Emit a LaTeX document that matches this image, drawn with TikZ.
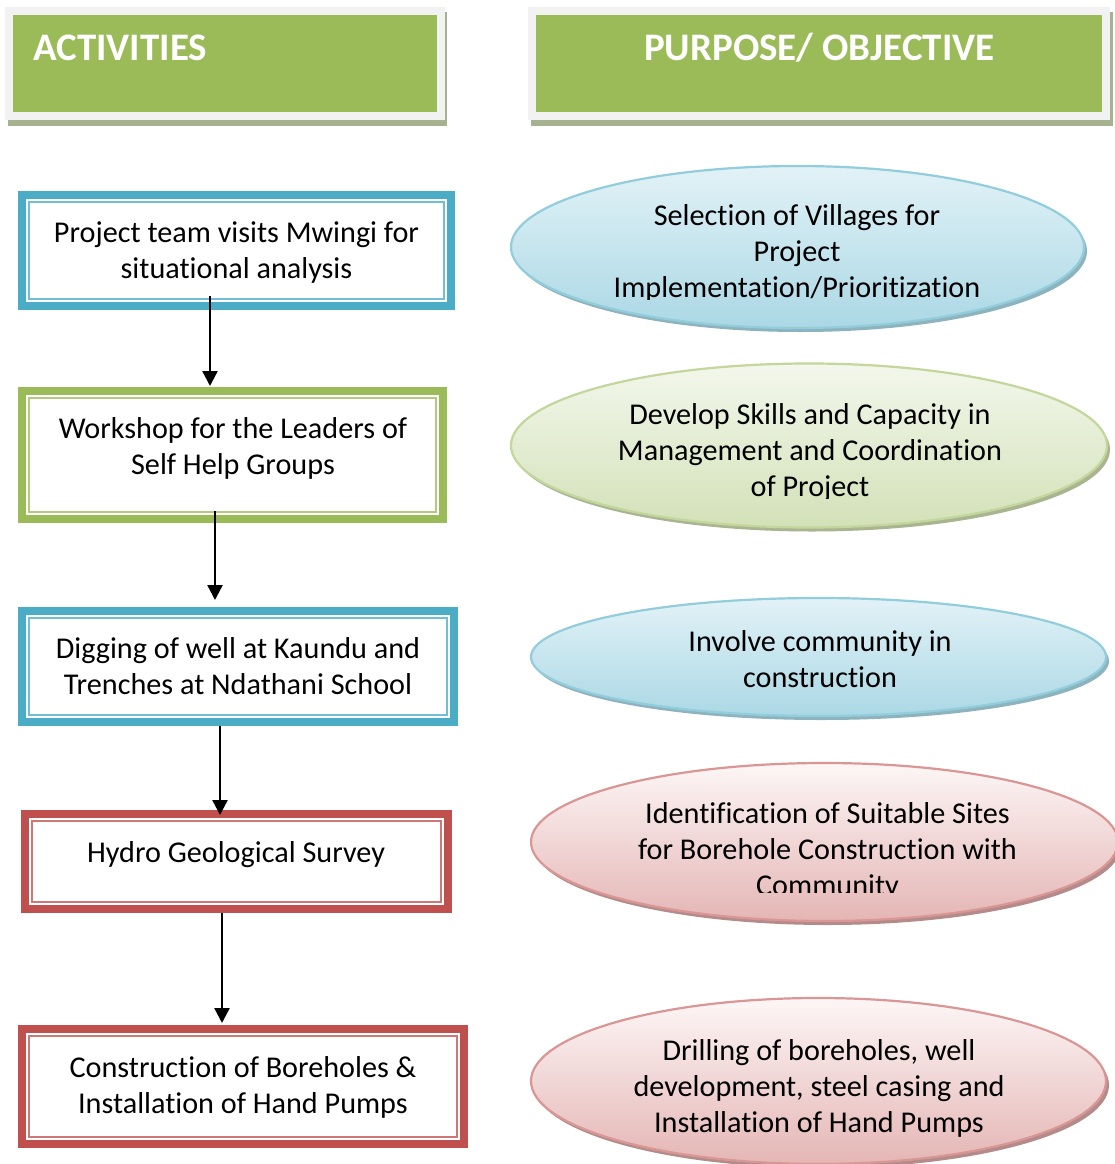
\documentclass[tikz,border=0pt]{standalone}
\usepackage{fontspec}
\setmainfont{Carlito}[Ligatures=NoCommon]
\usetikzlibrary{shapes.geometric,arrows.meta}
\definecolor{hgreen}{HTML}{9BBB59}
\definecolor{hframe}{HTML}{F2F2F2}
\definecolor{hshadow}{HTML}{A5B18F}
\definecolor{bblue}{HTML}{4BACC6}
\definecolor{bgreen}{HTML}{9BBB59}
\definecolor{bred}{HTML}{C0504D}
\definecolor{ebtop}{HTML}{E2F2F7}
\definecolor{ebbot}{HTML}{ABD8E5}
\definecolor{ebdraw}{HTML}{92CDDC}
\definecolor{ebsh}{HTML}{8DB3BF}
\definecolor{egtop}{HTML}{F3F7EC}
\definecolor{egbot}{HTML}{D3E1B8}
\definecolor{egdraw}{HTML}{C3D69B}
\definecolor{egsh}{HTML}{A9B590}
\definecolor{ertop}{HTML}{FDF6F6}
\definecolor{erbot}{HTML}{E4B6B5}
\definecolor{erdraw}{HTML}{D99694}
\definecolor{ersh}{HTML}{B38B8A}
\begin{document}
\begin{tikzpicture}[x=1pt,y=-1pt,
  hdr/.style={rectangle, inner sep=0, outer sep=0, fill=hgreen, draw=hframe, line width=8pt},
  hdrtxt/.style={anchor=base west, inner sep=0, text=white, font=\fontsize{39pt}{44pt}\selectfont\bfseries},
  boxn/.style={rectangle, inner sep=0, outer sep=0, fill=white, path picture={
     \draw[line width=8pt, #1] ([shift={(4,4)}]path picture bounding box.north west) rectangle ([shift={(-4,-4)}]path picture bounding box.south east);
     \draw[line width=1.6pt, #1!78] ([shift={(11,11)}]path picture bounding box.north west) rectangle ([shift={(-11,-11)}]path picture bounding box.south east);}},
  txt/.style={anchor=base, align=center, inner sep=0, font=\fontsize{30.2pt}{36pt}\selectfont},
  ell/.style={ellipse, inner sep=0, outer sep=0, line width=2.2pt},
  arr/.style={line width=2.4pt, -{Triangle[width=15pt,length=15pt]}}
]
\useasboundingbox (0,0) rectangle (1115,1164);
\fill[white] (0,0) rectangle (1115,1164);
% headers
\fill[hshadow] (8,12) rectangle (447,126);
\node[hdr, minimum width=432pt, minimum height=105pt] (h1) at (225,63.5) {};
\node[hdrtxt] (h1t) at (33,61) {ACTIVITIES};
\fill[hshadow] (531,12) rectangle (1113,126);
\node[hdr, minimum width=574pt, minimum height=105pt] (h2) at (819,63.5) {};
\node[hdrtxt, anchor=base] (h2t) at (819.5,61) {PURPOSE/ OBJECTIVE};
% boxes
\node[boxn=bblue, minimum width=437pt, minimum height=119pt] (b1) at (236.5,250.5) {};
\node[boxn=bgreen, minimum width=429pt, minimum height=136pt] (b2) at (232.5,455) {};
\node[boxn=bblue, minimum width=440pt, minimum height=119pt] (b3) at (238,666.5) {};
\node[boxn=bred, minimum width=431pt, minimum height=103pt] (b4) at (236.5,861.5) {};
\node[boxn=bred, minimum width=450pt, minimum height=123pt] (b5) at (243,1086.5) {};
\node[txt] (t1) at (236.5,278) {Project team visits Mwingi for\\situational analysis};
\node[txt] (t2) at (233,474) {Workshop for the Leaders of\\Self Help Groups};
\node[txt] (t3) at (238,694) {Digging of well at Kaundu and\\Trenches at Ndathani School};
\node[txt] (t4) at (236,862) {Hydro Geological Survey};
\node[txt] (t5) at (243,1113) {Construction of Boreholes \&\\Installation of Hand Pumps};
% arrows
\draw[arr] ([shift={(-26.5,-14)}]b1.south) -- ([shift={(-22.5,-1)}]b2.north);
\draw[arr] ([shift={(-17.5,-12)}]b2.south) -- ([shift={(-23,-7)}]b3.north);
\draw[arr] ([shift={(-18,0)}]b3.south) -- ([shift={(-16.5,5)}]b4.north);
\draw[arr] ([shift={(-14.5,0)}]b4.south) -- ([shift={(-21,-2)}]b5.north);
% ellipses
\fill[ebsh] (800.5,251) ellipse [x radius=286.5, y radius=81];
\node[ell, draw=ebdraw, top color=ebtop, bottom color=ebbot, minimum width=573pt, minimum height=162pt] (e1) at (797.5,247) {};
\fill[egsh] (812,449.5) ellipse [x radius=298, y radius=82];
\node[ell, draw=egdraw, top color=egtop, bottom color=egbot, minimum width=596pt, minimum height=164pt] (e2) at (809,445.5) {};
\fill[ebsh] (821.5,661) ellipse [x radius=287.5, y radius=59];
\node[ell, draw=ebdraw, top color=ebtop, bottom color=ebbot, minimum width=575pt, minimum height=118pt] (e3) at (818.5,657) {};
\fill[ersh] (827.5,846) ellipse [x radius=293.5, y radius=79];
\node[ell, draw=erdraw, top color=ertop, bottom color=erbot, minimum width=587pt, minimum height=158pt] (e4) at (824.5,842) {};
\fill[ersh] (821.5,1085) ellipse [x radius=287.5, y radius=83];
\node[ell, draw=erdraw, top color=ertop, bottom color=erbot, minimum width=575pt, minimum height=166pt] (e5) at (818.5,1081) {};
% ellipse texts
\begin{scope}
\clip (500,150) rectangle (1115,299);
\node[txt] (u1) at (797,297) {Selection of Villages for\\Project\\Implementation/Prioritization};
\end{scope}
\begin{scope}
\clip (500,350) rectangle (1115,498);
\node[txt] (u2) at (810,496) {Develop Skills and Capacity in\\Management and Coordination\\of Project};
\end{scope}
\node[txt] (u3) at (820,687) {Involve community in\\construction};
\begin{scope}
\clip (500,750) rectangle (1115,892);
\node[txt] (u4) at (827.5,895) {Identification of Suitable Sites\\for Borehole Construction with\\Community};
\end{scope}
\node[txt] (u5) at (819,1132) {Drilling of boreholes, well\\development, steel casing and\\Installation of Hand Pumps};
\end{tikzpicture}
\end{document}
